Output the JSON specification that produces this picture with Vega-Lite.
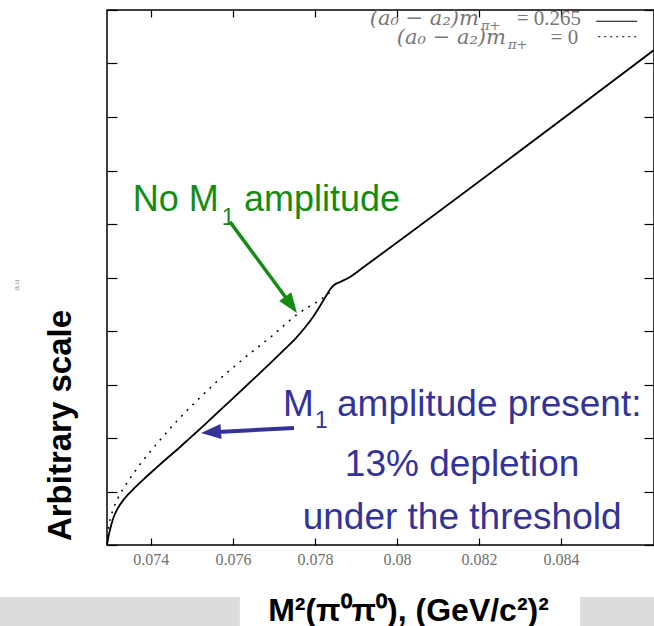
{
  "$schema": "https://vega.github.io/schema/vega-lite/v6.json",
  "width": 547,
  "height": 535,
  "autosize": {"type": "none"},
  "padding": {"left": 107, "top": 10, "right": 0, "bottom": 81},
  "background": "white",
  "config": {"view": {"stroke": "black", "strokeWidth": 1.5}, "axis": {"grid": false}},
  "datasets": {
    "solid": [
      {"m2": 0.07293, "a": 0}, {"m2": 0.072954, "a": 0.112}, {"m2": 0.073003, "a": 0.28}, {"m2": 0.073076, "a": 0.486},
      {"m2": 0.073198, "a": 0.692}, {"m2": 0.073369, "a": 0.879}, {"m2": 0.073613, "a": 1.075}, {"m2": 0.073857, "a": 1.252},
      {"m2": 0.074101, "a": 1.421}, {"m2": 0.074345, "a": 1.589}, {"m2": 0.074589, "a": 1.748}, {"m2": 0.074832, "a": 1.916},
      {"m2": 0.075076, "a": 2.084}, {"m2": 0.07532, "a": 2.256}, {"m2": 0.075564, "a": 2.43}, {"m2": 0.075808, "a": 2.604},
      {"m2": 0.076052, "a": 2.778}, {"m2": 0.076296, "a": 2.953}, {"m2": 0.07654, "a": 3.129}, {"m2": 0.076784, "a": 3.305},
      {"m2": 0.077028, "a": 3.482}, {"m2": 0.077271, "a": 3.664}, {"m2": 0.077515, "a": 3.85}, {"m2": 0.077759, "a": 4.065},
      {"m2": 0.077954, "a": 4.262}, {"m2": 0.078125, "a": 4.467}, {"m2": 0.078271, "a": 4.654}, {"m2": 0.078369, "a": 4.776},
      {"m2": 0.078467, "a": 4.86}, {"m2": 0.078613, "a": 4.916}, {"m2": 0.078857, "a": 5.009}, {"m2": 0.079223, "a": 5.215},
      {"m2": 0.079589, "a": 5.421}, {"m2": 0.08627, "a": 9.252}
    ],
    "dotted": [
      {"m2": 0.072942, "a": 0.15}, {"m2": 0.072979, "a": 0.374}, {"m2": 0.073028, "a": 0.542}, {"m2": 0.073101, "a": 0.71},
      {"m2": 0.073198, "a": 0.879}, {"m2": 0.07332, "a": 1.047}, {"m2": 0.073491, "a": 1.243}, {"m2": 0.073686, "a": 1.458},
      {"m2": 0.073906, "a": 1.673}, {"m2": 0.07415, "a": 1.897}, {"m2": 0.074393, "a": 2.112}, {"m2": 0.074637, "a": 2.318},
      {"m2": 0.074881, "a": 2.514}, {"m2": 0.075125, "a": 2.701}, {"m2": 0.075442, "a": 2.935}, {"m2": 0.075735, "a": 3.14},
      {"m2": 0.076052, "a": 3.346}, {"m2": 0.076369, "a": 3.551}, {"m2": 0.076662, "a": 3.729}, {"m2": 0.076954, "a": 3.907},
      {"m2": 0.077271, "a": 4.121}, {"m2": 0.077564, "a": 4.308}, {"m2": 0.077881, "a": 4.467}, {"m2": 0.078125, "a": 4.579},
      {"m2": 0.07832, "a": 4.692}, {"m2": 0.078418, "a": 4.766}
    ]
  },
  "layer": [
    {
      "data": {"values": [{"x": 0.0703, "x2": 0.07617, "y": -0.972, "y2": -1.52}, {"x": 0.08447, "x2": 0.0863, "y": -0.972, "y2": -1.52}]},
      "mark": {"type": "rect", "color": "#dcdcdc", "clip": false},
      "encoding": {
        "x": {"field": "x", "type": "quantitative", "axis": null},
        "x2": {"field": "x2"},
        "y": {"field": "y", "type": "quantitative", "axis": null},
        "y2": {"field": "y2"}
      }
    },
    {
      "data": {"name": "dotted"},
      "mark": {"type": "line", "color": "black", "strokeWidth": 1.5, "strokeDash": [2, 6], "interpolate": "monotone"},
      "encoding": {
        "x": {"field": "m2", "type": "quantitative", "scale": {"domain": [0.07293, 0.08627], "nice": false, "zero": false},
          "axis": {"orient": "top", "values": [0.074, 0.076, 0.078, 0.08, 0.082, 0.084], "labels": false, "domain": false, "tickSize": -7, "tickColor": "black", "tickWidth": 1.2, "title": null}},
        "y": {"field": "a", "type": "quantitative", "scale": {"domain": [0, 10], "nice": false, "zero": false},
          "axis": {"orient": "right", "values": [0, 1, 2, 3, 4, 5, 6, 7, 8, 9, 10], "labels": false, "domain": false, "tickSize": -10, "tickColor": "black", "tickWidth": 1.2, "title": null}}
      }
    },
    {
      "data": {"name": "solid"},
      "mark": {"type": "line", "color": "black", "strokeWidth": 1.8, "interpolate": "monotone"},
      "encoding": {
        "x": {"field": "m2", "type": "quantitative",
          "axis": {"orient": "bottom", "values": [0.074, 0.076, 0.078, 0.08, 0.082, 0.084], "format": ".3~f", "domain": false,
            "tickSize": -7, "tickColor": "black", "tickWidth": 1.2, "labelPadding": 13, "labelFont": "Liberation Serif", "labelFontSize": 16, "labelColor": "#707070",
            "title": "M²(π⁰π⁰), (GeV/c²)²", "titleFont": "Liberation Sans", "titleFontSize": 32, "titleFontWeight": "bold", "titleColor": "black",
            "titleX": 301, "titleY": 65, "titleAlign": "center", "titleBaseline": "middle"}},
        "y": {"field": "a", "type": "quantitative",
          "axis": {"orient": "left", "values": [0, 1, 2, 3, 4, 5, 6, 7, 8, 9, 10], "labels": false, "domain": false,
            "tickSize": -10, "tickColor": "black", "tickWidth": 1.2,
            "title": "Arbitrary scale", "titleFont": "Liberation Sans", "titleFontSize": 33, "titleFontWeight": "bold", "titleColor": "black",
            "titleAngle": -90, "titleX": -47, "titleY": 415, "titleAlign": "center", "titleBaseline": "middle"}}
      }
    },
    {
      "data": {"values": [{"x": 0.08486, "x2": 0.08586, "y": 9.79}]},
      "mark": {"type": "rule", "color": "black", "strokeWidth": 1.2},
      "encoding": {"x": {"field": "x", "type": "quantitative", "axis": null}, "x2": {"field": "x2"}, "y": {"field": "y", "type": "quantitative", "axis": null}}
    },
    {
      "data": {"values": [{"x": 0.08491, "x2": 0.08593, "y": 9.5}]},
      "mark": {"type": "rule", "color": "black", "strokeWidth": 1.2, "strokeDash": [2, 4]},
      "encoding": {"x": {"field": "x", "type": "quantitative", "axis": null}, "x2": {"field": "x2"}, "y": {"field": "y", "type": "quantitative", "axis": null}}
    },
    {
      "data": {"values": [{"x": 0.082, "y": 9.83, "t": "(a₀ − a₂)m"}, {"x": 0.08266, "y": 9.48, "t": "(a₀ − a₂)m"}]},
      "mark": {"type": "text", "align": "right", "baseline": "middle", "font": "DejaVu Serif", "fontStyle": "italic", "fontSize": 21, "color": "#777"},
      "encoding": {"x": {"field": "x", "type": "quantitative", "axis": null}, "y": {"field": "y", "type": "quantitative", "axis": null}, "text": {"field": "t"}}
    },
    {
      "data": {"values": [{"x": 0.08205, "y": 9.7, "t": "π+"}, {"x": 0.08271, "y": 9.35, "t": "π+"}]},
      "mark": {"type": "text", "align": "left", "baseline": "middle", "font": "DejaVu Serif", "fontStyle": "italic", "fontSize": 13, "color": "#777"},
      "encoding": {"x": {"field": "x", "type": "quantitative", "axis": null}, "y": {"field": "y", "type": "quantitative", "axis": null}, "text": {"field": "t"}}
    },
    {
      "data": {"values": [{"x": 0.08449, "y": 9.83, "t": "= 0.265"}, {"x": 0.08442, "y": 9.48, "t": "=  0"}]},
      "mark": {"type": "text", "align": "right", "baseline": "middle", "font": "Liberation Serif", "fontSize": 21, "color": "#777"},
      "encoding": {"x": {"field": "x", "type": "quantitative", "axis": null}, "y": {"field": "y", "type": "quantitative", "axis": null}, "text": {"field": "t"}}
    },
    {
      "data": {"values": [{"x": 0.070735, "y": 4.86, "t": "a.u"}]},
      "mark": {"type": "text", "align": "center", "baseline": "middle", "angle": -90, "fontSize": 8, "color": "#999", "clip": false},
      "encoding": {"x": {"field": "x", "type": "quantitative", "axis": null}, "y": {"field": "y", "type": "quantitative", "axis": null}, "text": {"field": "t"}}
    },
    {
      "data": {"values": [{"x": 0.07356, "y": 6.45, "t": "No M"}, {"x": 0.07627, "y": 6.45, "t": "amplitude"}]},
      "mark": {"type": "text", "align": "left", "baseline": "middle", "font": "Liberation Sans", "fontSize": 36, "color": "#148c14"},
      "encoding": {"x": {"field": "x", "type": "quantitative", "axis": null}, "y": {"field": "y", "type": "quantitative", "axis": null}, "text": {"field": "t"}}
    },
    {
      "data": {"values": [{"x": 0.07573, "y": 6.12, "t": "1"}]},
      "mark": {"type": "text", "align": "left", "baseline": "middle", "font": "Liberation Sans", "fontSize": 23, "color": "#148c14"},
      "encoding": {"x": {"field": "x", "type": "quantitative", "axis": null}, "y": {"field": "y", "type": "quantitative", "axis": null}, "text": {"field": "t"}}
    },
    {
      "data": {"values": [{"x": 0.07593, "y": 6.04, "x2": 0.07742, "y2": 4.49}]},
      "mark": {"type": "rule", "color": "#148c14", "strokeWidth": 3.5},
      "encoding": {"x": {"field": "x", "type": "quantitative", "axis": null}, "y": {"field": "y", "type": "quantitative", "axis": null}, "x2": {"field": "x2"}, "y2": {"field": "y2"}}
    },
    {
      "data": {"values": [{"x": 0.07742, "y": 4.49}]},
      "mark": {"type": "point", "shape": "M-0.75,-1L0.75,-1L0,1Z", "filled": true, "opacity": 1, "color": "#148c14", "size": 400, "angle": -36},
      "encoding": {"x": {"field": "x", "type": "quantitative", "axis": null}, "y": {"field": "y", "type": "quantitative", "axis": null}}
    },
    {
      "data": {"values": [{"x": 0.07722, "y": 2.62, "t": "M"}, {"x": 0.07854, "y": 2.62, "t": "amplitude present:"}]},
      "mark": {"type": "text", "align": "left", "baseline": "middle", "font": "Liberation Sans", "fontSize": 37, "color": "#333399"},
      "encoding": {"x": {"field": "x", "type": "quantitative", "axis": null}, "y": {"field": "y", "type": "quantitative", "axis": null}, "text": {"field": "t"}}
    },
    {
      "data": {"values": [{"x": 0.078, "y": 2.32, "t": "1"}]},
      "mark": {"type": "text", "align": "left", "baseline": "middle", "font": "Liberation Sans", "fontSize": 23, "color": "#333399"},
      "encoding": {"x": {"field": "x", "type": "quantitative", "axis": null}, "y": {"field": "y", "type": "quantitative", "axis": null}, "text": {"field": "t"}}
    },
    {
      "data": {"values": [
        {"x": 0.08159, "y": 1.5, "t": "13% depletion"},
        {"x": 0.08159, "y": 0.5, "t": "under the threshold"}
      ]},
      "mark": {"type": "text", "align": "center", "baseline": "middle", "font": "Liberation Sans", "fontSize": 37, "color": "#333399"},
      "encoding": {"x": {"field": "x", "type": "quantitative", "axis": null}, "y": {"field": "y", "type": "quantitative", "axis": null}, "text": {"field": "t"}}
    },
    {
      "data": {"values": [{"x": 0.077491, "y": 2.187, "x2": 0.075515, "y2": 2.108}]},
      "mark": {"type": "rule", "color": "#333399", "strokeWidth": 4},
      "encoding": {"x": {"field": "x", "type": "quantitative", "axis": null}, "y": {"field": "y", "type": "quantitative", "axis": null}, "x2": {"field": "x2"}, "y2": {"field": "y2"}}
    },
    {
      "data": {"values": [{"x": 0.075467, "y": 2.107}]},
      "mark": {"type": "point", "shape": "M-0.75,-1L0.75,-1L0,1Z", "filled": true, "opacity": 1, "color": "#333399", "size": 400, "angle": 86},
      "encoding": {"x": {"field": "x", "type": "quantitative", "axis": null}, "y": {"field": "y", "type": "quantitative", "axis": null}}
    }
  ]
}
